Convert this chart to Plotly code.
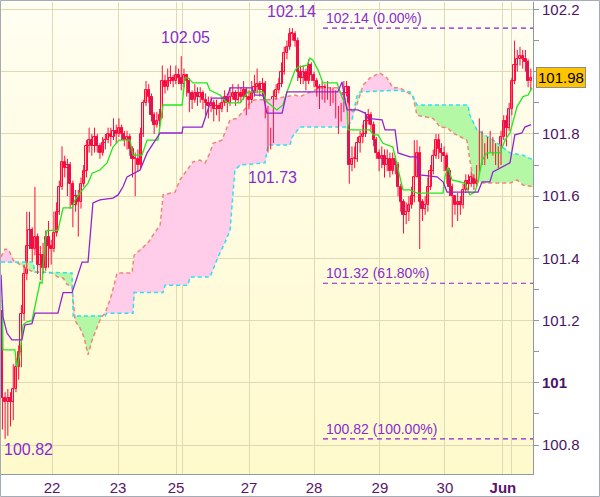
import numpy as np
import plotly.graph_objects as go

# ---------------- data ----------------
first_open = 101.23
closes = [100.95,100.94,100.95,100.94,100.98,101.05,101.10,101.22,101.35,101.44,
101.49,101.43,101.47,101.38,101.41,101.37,101.47,101.44,101.43,101.48,
101.55,101.63,101.71,101.69,101.70,101.64,101.57,101.60,101.58,101.64,
101.68,101.76,101.78,101.76,101.79,101.76,101.74,101.77,101.78,101.80,
101.79,101.81,101.80,101.82,101.80,101.78,101.79,101.75,101.72,101.72,
101.70,101.80,101.90,101.94,101.92,101.86,101.83,101.84,101.86,101.97,
101.95,101.97,101.98,101.97,101.99,101.98,101.96,101.99,101.97,101.93,
101.91,101.93,101.92,101.93,101.91,101.90,101.89,101.90,101.88,101.89,
101.88,101.90,101.92,101.90,101.92,101.93,101.91,101.93,101.92,101.94,
101.92,101.91,101.93,101.95,101.96,101.94,101.96,101.88,101.77,101.79,
101.92,101.94,101.96,102.00,102.06,102.08,102.12,102.12,102.10,102.00,
101.98,102.00,101.97,102.02,101.99,101.97,101.95,101.93,101.95,101.93,
101.94,101.92,101.93,101.87,101.86,101.88,101.93,101.95,101.70,101.72,
101.72,101.77,101.79,101.80,101.84,101.86,101.83,101.78,101.74,101.72,
101.73,101.70,101.72,101.68,101.72,101.70,101.63,101.58,101.54,101.55,
101.57,101.60,101.66,101.74,101.58,101.56,101.57,101.63,101.68,101.73,
101.78,101.75,101.74,101.73,101.68,101.63,101.60,101.57,101.58,101.57,
101.62,101.65,101.64,101.66,101.64,101.68,101.79,101.72,101.74,101.76,
101.77,101.76,101.74,101.71,101.79,101.84,101.82,101.88,101.97,102.02,
102.04,102.05,102.04,102.03,101.97,101.98]

highs = [101.25,100.97,100.98,100.97,101.06,101.08,101.12,101.25,101.38,101.55,
101.55,101.50,101.63,101.48,101.44,101.45,101.49,101.52,101.46,101.55,
101.58,101.65,101.76,101.73,101.72,101.71,101.65,101.62,101.62,101.66,
101.70,101.78,101.82,101.80,101.82,101.80,101.77,101.79,101.80,101.82,
101.82,101.85,101.83,101.85,101.83,101.81,101.81,101.80,101.76,101.74,
101.75,101.82,101.91,101.97,101.96,101.93,101.87,101.87,101.88,102.02,
101.99,102.01,102.02,101.99,102.02,102.01,102.05,102.01,101.99,101.98,
101.94,101.96,101.95,101.95,101.94,101.93,101.92,101.92,101.91,101.91,
101.90,101.92,101.94,101.93,101.95,101.96,101.94,101.96,101.95,101.97,
101.95,101.94,101.97,101.99,102.01,101.97,101.98,101.97,101.89,101.82,
101.94,101.96,101.98,102.03,102.08,102.10,102.14,102.14,102.13,102.11,
102.02,102.02,102.01,102.04,102.03,102.00,101.98,101.96,101.97,101.96,
101.97,101.95,101.95,101.94,101.89,101.90,101.97,101.97,101.95,101.76,
101.76,101.79,101.81,101.83,101.87,101.88,101.87,101.84,101.79,101.75,
101.76,101.75,101.75,101.74,101.74,101.73,101.71,101.64,101.59,101.58,
101.60,101.63,101.78,101.78,101.76,101.59,101.60,101.66,101.70,101.75,
101.80,101.80,101.77,101.76,101.74,101.69,101.64,101.60,101.61,101.60,
101.64,101.67,101.67,101.68,101.67,101.70,101.85,101.81,101.77,101.79,
101.81,101.79,101.77,101.76,101.81,101.86,101.86,101.90,101.98,102.10,
102.07,102.08,102.07,102.07,102.04,102.01]

lows = [100.85,100.82,100.83,100.86,100.88,100.97,101.01,101.05,101.20,101.33,
101.43,101.39,101.41,101.35,101.33,101.35,101.36,101.37,101.38,101.42,
101.47,101.54,101.62,101.66,101.60,101.56,101.50,101.55,101.47,101.56,
101.63,101.66,101.74,101.73,101.74,101.74,101.72,101.73,101.75,101.77,
101.76,101.78,101.77,101.79,101.78,101.76,101.75,101.73,101.66,101.60,
101.68,101.69,101.79,101.89,101.90,101.84,101.80,101.82,101.82,101.85,
101.93,101.94,101.96,101.95,101.96,101.96,101.94,101.95,101.92,101.87,
101.88,101.90,101.89,101.90,101.88,101.86,101.85,101.87,101.84,101.86,
101.84,101.87,101.89,101.87,101.89,101.91,101.89,101.90,101.90,101.91,
101.86,101.88,101.90,101.92,101.93,101.92,101.92,101.85,101.74,101.75,
101.77,101.91,101.93,101.95,101.99,102.04,102.07,102.10,102.08,101.97,
101.96,101.96,101.94,101.96,101.97,101.95,101.92,101.88,101.91,101.90,
101.91,101.89,101.90,101.85,101.80,101.84,101.87,101.92,101.64,101.68,
101.69,101.71,101.74,101.77,101.79,101.83,101.81,101.76,101.72,101.68,
101.69,101.66,101.68,101.66,101.67,101.67,101.60,101.55,101.48,101.51,
101.52,101.56,101.58,101.66,101.43,101.52,101.54,101.55,101.62,101.67,
101.72,101.72,101.71,101.68,101.64,101.60,101.50,101.54,101.52,101.54,
101.56,101.61,101.62,101.63,101.62,101.63,101.67,101.70,101.70,101.72,
101.74,101.73,101.70,101.69,101.70,101.78,101.76,101.81,101.86,101.96,
102.00,102.02,102.01,102.00,101.95,101.94]

# Ichimoku lines (bar index, price)
tenkan_i = [0,0.2,4.6,5.4,6.5,7.6,9.1,10.9,13.9,14.6,15.7,16.5,20.5,22.4,25.7,26.8,28.6,31.6,33.1,36,
            38.6,40.8,43,47.1,48.2,51.5,53.4,57.4,59.3,66.3,67.4,68.5,70.3,75.5,76.6,80.3,82.9,87.7,90.6,96.2,
            97.6,101.3,103.5,105,108,109.1,112.4,113.5,114.6,116.5,118.3,123.5,124.6,125.7,127.2,127.5,135.6,136.8,138.6,140.4,
            144.1,146,147.8,150.4,153,162.6,163.3,164.4,165.9,170.7,172.5,174.4,175.5,177,178.8,183.6,185.5,187.3,189.9,192.1,
            194,195.4]
tenkan_v = [101.266,101.106,101.106,101.05,101.095,101.186,101.196,101.2,101.324,101.32,101.453,101.49,101.49,101.562,101.562,101.588,101.61,101.642,101.674,101.684,
            101.707,101.758,101.78,101.78,101.732,101.732,101.78,101.78,101.893,101.893,101.98,101.98,101.964,101.964,101.94,101.925,101.9,101.9,101.935,101.935,
            101.903,101.877,101.893,101.935,102.005,102.015,102.02,102.044,102.037,102.005,101.964,101.964,101.935,101.91,101.887,101.813,101.813,101.797,101.797,101.77,
            101.758,101.684,101.62,101.62,101.61,101.61,101.662,101.694,101.652,101.642,101.604,101.613,101.646,101.716,101.739,101.739,101.78,101.803,101.887,101.92,
            101.925,101.948]

kijun_i = [-0.5,0.2,1.7,3.5,7.2,8.3,10.9,12,20.5,22.4,25.7,29.4,31.6,33.4,36,40.8,42.7,44.5,46,50.8,
           53.4,55.2,58.2,66.3,66.6,73.7,75.5,77.3,82.9,84,92.1,93.2,96.2,97.6,103.2,105,123.8,125.3,126.4,127.2,
           131.2,133.8,134.9,140.1,141.2,144.9,146,150.4,153,154.1,160.4,162.6,164.1,175.5,177,179.9,181,184.7,187.3,189.1,
           191.7,192.8,195.1]
kijun_v = [101.347,101.212,101.16,101.138,101.138,101.186,101.19,101.224,101.224,101.29,101.29,101.388,101.388,101.578,101.588,101.594,101.604,101.63,101.662,101.684,
           101.739,101.764,101.803,101.803,101.822,101.822,101.867,101.915,101.915,101.948,101.948,101.925,101.925,101.867,101.867,101.935,101.935,101.967,101.91,101.877,
           101.877,101.867,101.85,101.845,101.813,101.813,101.739,101.726,101.726,101.668,101.662,101.646,101.613,101.613,101.646,101.646,101.678,101.694,101.707,101.797,
           101.803,101.822,101.83]

span_a_i = [-0.5,1,2.4,3.9,6.5,8.3,11.3,15,18.3,20.5,22.4,23.8,25.7,26.8,28.6,30.1,31.6,33.1,34.9,36.4,
            37.9,39.7,41.2,42.3,47.8,48.6,50.8,53.7,55.6,58.2,59.3,63.7,65.5,68.1,70.3,72.9,74.8,76.6,77.7,81,
            84,86.6,91.4,93.2,98.7,105,108,109.8,113.5,117.2,123.5,125.7,127.2,129.4,130.8,133.1,135.6,139.3,141.9,144.1,
            146.7,149.3,151.5,153,155.9,158.9,161.5,164.1,166.3,171.4,172.5,173.6,176.2,182.4,187.3,189.9,192.1,195.8]
span_a_v = [101.405,101.43,101.427,101.395,101.38,101.37,101.356,101.356,101.353,101.34,101.337,101.317,101.308,101.2,101.177,101.147,101.09,101.138,101.18,101.21,
            101.224,101.266,101.314,101.353,101.353,101.41,101.427,101.45,101.475,101.507,101.604,101.613,101.652,101.684,101.71,101.716,101.707,101.739,101.77,101.78,
            101.845,101.85,101.9,101.91,101.91,101.92,101.925,101.92,101.935,101.948,101.948,101.925,101.903,101.867,101.893,101.957,101.98,101.996,101.98,101.948,
            101.948,101.935,101.92,101.86,101.855,101.85,101.822,101.82,101.803,101.78,101.716,101.662,101.642,101.642,101.642,101.652,101.636,101.63]

span_b_i = [-0.5,11.3,12,25.7,26.1,37.9,38.6,48.2,48.6,59.3,60,68.5,69.2,76.6,79.6,82.1,84,84.7,85.8,87.7,
            96.9,98,106.1,106.9,109.8,127.2,129,130.8,131.9,144.9,150.4,151.5,153,171.8,172.5,175.1,177,179.2,181,183.6,
            187.3,192.1,193.6,195.8]
span_b_v = [101.388,101.388,101.356,101.353,101.215,101.215,101.224,101.224,101.29,101.29,101.314,101.314,101.34,101.34,101.405,101.45,101.49,101.578,101.684,101.7,
            101.707,101.764,101.764,101.79,101.822,101.822,101.845,101.92,101.935,101.94,101.935,101.92,101.893,101.893,101.86,101.813,101.803,101.79,101.78,101.764,
            101.739,101.732,101.726,101.716]

# Fibonacci levels
fib_levels = [102.14, 101.32, 100.82]
fib_pcts = ["0.00%", "61.80%", "100.00%"]
fib_start = 118.3

# extreme labels: text, bar index of label, price
ext_text = ["102.05", "102.14", "101.73", "100.82"]
ext_i = [67.4, 106.5, 99.5, 0.0]
ext_v = [102.05, 102.14, 101.73, 100.82]

last_price = 101.98

# x-axis day labels (bar index)
day_ticks = [18.3, 42.7, 64.1, 66.6, 91.0, 115.0, 139.3, 163.3, 184.7, 188.0]
day_text = ["22", "23", "25", "", "27", "28", "29", "30", "<b>Jun</b>", ""]

y_ticks = [100.8, 101.0, 101.2, 101.4, 101.6, 101.8, 102.0, 102.2]
y_text = ["100.8", "<b>101</b>", "101.2", "101.4", "101.6", "101.8", "102", "102.2"]

# ---------------- figure ----------------
W, H = 600, 497
ML, MR, MT, MB = 1, 67, 2, 23
X_RANGE = [-0.52, 195.8]
Y_RANGE = [100.707, 102.224]
FONT = "Liberation Sans, Arial"

n = len(closes)
xs = list(range(n))
opens = [first_open] + closes[:-1]
hi = [max(h, o, c) for h, o, c in zip(highs, opens, closes)]
lo = [min(l, o, c) for l, o, c in zip(lows, opens, closes)]

fig = go.Figure()

# cloud fill
grid = np.linspace(min(span_a_i), max(span_a_i), 3000)
a = np.interp(grid, span_a_i, span_a_v)
b = np.interp(grid, span_b_i, span_b_v)
low_ab = np.minimum(a, b)
for upper, col in ((a, "#FFCCEA"), (b, "#B4F7A4")):
    fig.add_trace(go.Scatter(x=grid, y=low_ab, mode="lines", line=dict(width=0),
                             hoverinfo="skip", showlegend=False))
    fig.add_trace(go.Scatter(x=grid, y=upper, mode="lines", line=dict(width=0),
                             fill="tonexty", fillcolor=col, hoverinfo="skip", showlegend=False))

fig.add_trace(go.Scatter(x=span_a_i, y=span_a_v, mode="lines",
                         line=dict(color="#F2857A", width=1.5, dash="4px,3px"), showlegend=False))
fig.add_trace(go.Scatter(x=span_b_i, y=span_b_v, mode="lines",
                         line=dict(color="#2EE0F0", width=1.5, dash="4px,3px"), showlegend=False))

# candles: wicks
wx, wy = [], []
for i in xs:
    wx += [i, i, None]
    wy += [lo[i], hi[i], None]
fig.add_trace(go.Scatter(x=wx, y=wy, mode="lines", line=dict(color="#FF0A3C", width=1),
                         hoverinfo="skip", showlegend=False))
# candles: bodies
up_idx = [i for i in xs if closes[i] >= opens[i]]
dn_idx = [i for i in xs if closes[i] < opens[i]]
for idx, fc in ((up_idx, "rgba(255,255,255,0)"), (dn_idx, "#9A2A86")):
    fig.add_trace(go.Bar(
        x=idx,
        y=[max(abs(closes[i] - opens[i]), 0.003) for i in idx],
        base=[min(closes[i], opens[i]) for i in idx],
        width=0.8, marker=dict(color=fc, line=dict(color="#FF0A3C", width=1)),
        showlegend=False, hoverinfo="skip"))

# tenkan / kijun
fig.add_trace(go.Scatter(x=tenkan_i, y=tenkan_v, mode="lines",
                         line=dict(color="#22E622", width=1.3), showlegend=False))
fig.add_trace(go.Scatter(x=kijun_i, y=kijun_v, mode="lines",
                         line=dict(color="#9422D0", width=1.3), showlegend=False))

# fib lines
for lv, pc in zip(fib_levels, fib_pcts):
    fig.add_trace(go.Scatter(x=[fib_start, X_RANGE[1]], y=[lv, lv], mode="lines",
                             line=dict(color="#8A1FD0", width=1.2, dash="5px,4px"),
                             showlegend=False, hoverinfo="skip"))
    fig.add_annotation(x=fib_start + 0.5, y=lv, text=f"{lv:.2f} ({pc})", showarrow=False,
                       xanchor="left", yanchor="bottom", yshift=0,
                       font=dict(family=FONT, size=14, color="#8A2BD0"))

# extreme labels
shifts = [19, 17, -22, -11]
anchors = ["center", "center", "center", "left"]
for t, xi, v, s, an in zip(ext_text, ext_i, ext_v, shifts, anchors):
    fig.add_annotation(x=xi, y=v, text=t, showarrow=False, xanchor=an, yanchor="middle",
                       yshift=s, font=dict(family=FONT, size=16, color="#8A2BD0"))

# last price box
fig.add_annotation(xref="paper", x=(561 - ML) / (W - ML - MR), y=last_price, yref="y",
                   text=f"{last_price:.2f}", showarrow=False, xanchor="center", yanchor="middle",
                   bgcolor="#FFC400", bordercolor="#8C8C8C", borderwidth=1, borderpad=1,
                   font=dict(family=FONT, size=15, color="#000000"))

# background gradient bands (below grid)
pw = W - ML - MR
ph = H - MT - MB
nb = 40
top_c = np.array([255, 255, 242])
bot_c = np.array([255, 250, 204])
shapes = []
for k in range(nb):
    t = (k + 0.5) / nb
    c = top_c * (1 - t) + bot_c * t
    shapes.append(dict(type="rect", xref="paper", yref="paper", x0=0, x1=1,
                       y0=1 - (k + 1) / nb, y1=1 - k / nb + 0.001, layer="below",
                       line=dict(width=0),
                       fillcolor=f"rgb({int(c[0])},{int(c[1])},{int(c[2])})"))
# outer frame
shapes.append(dict(type="rect", xref="paper", yref="paper",
                   x0=-(ML - 0.5) / pw, x1=(W - ML - 0.5) / pw,
                   y0=-(MB - 0.5) / ph, y1=1 + (MT - 0.5) / ph,
                   line=dict(color="#A3ADB8", width=1), layer="above"))

fig.update_layout(
    width=W, height=H, margin=dict(l=ML, r=MR, t=MT, b=MB),
    paper_bgcolor="white", plot_bgcolor="rgba(0,0,0,0)",
    shapes=shapes, showlegend=False, barmode="overlay", bargap=0,
    xaxis=dict(range=X_RANGE, tickmode="array",
               tickvals=day_ticks, ticktext=day_text, showgrid=True, gridcolor="#DEDBB4",
               gridwidth=1, showline=True, linecolor="#8D99A6", linewidth=1, ticks="",
               zeroline=False, tickfont=dict(family=FONT, size=15, color="#5A1468")),
    yaxis=dict(range=Y_RANGE, side="right", tickmode="array", tickvals=y_ticks, ticktext=y_text,
               showgrid=True, gridcolor="#DEDBB4", gridwidth=1, showline=True,
               linecolor="#8D99A6", linewidth=1, ticks="outside", ticklen=5, tickcolor="#8D99A6",
               zeroline=False,
               minor=dict(dtick=0.1, tick0=100.7, ticks="outside", ticklen=5,
                          tickcolor="#8D99A6", showgrid=False),
               tickfont=dict(family=FONT, size=15, color="#4A1466")),
)

fig.write_html("out.html", config={"displayModeBar": False},
               post_script="document.body.style.margin='0';document.body.style.overflow='hidden';")
